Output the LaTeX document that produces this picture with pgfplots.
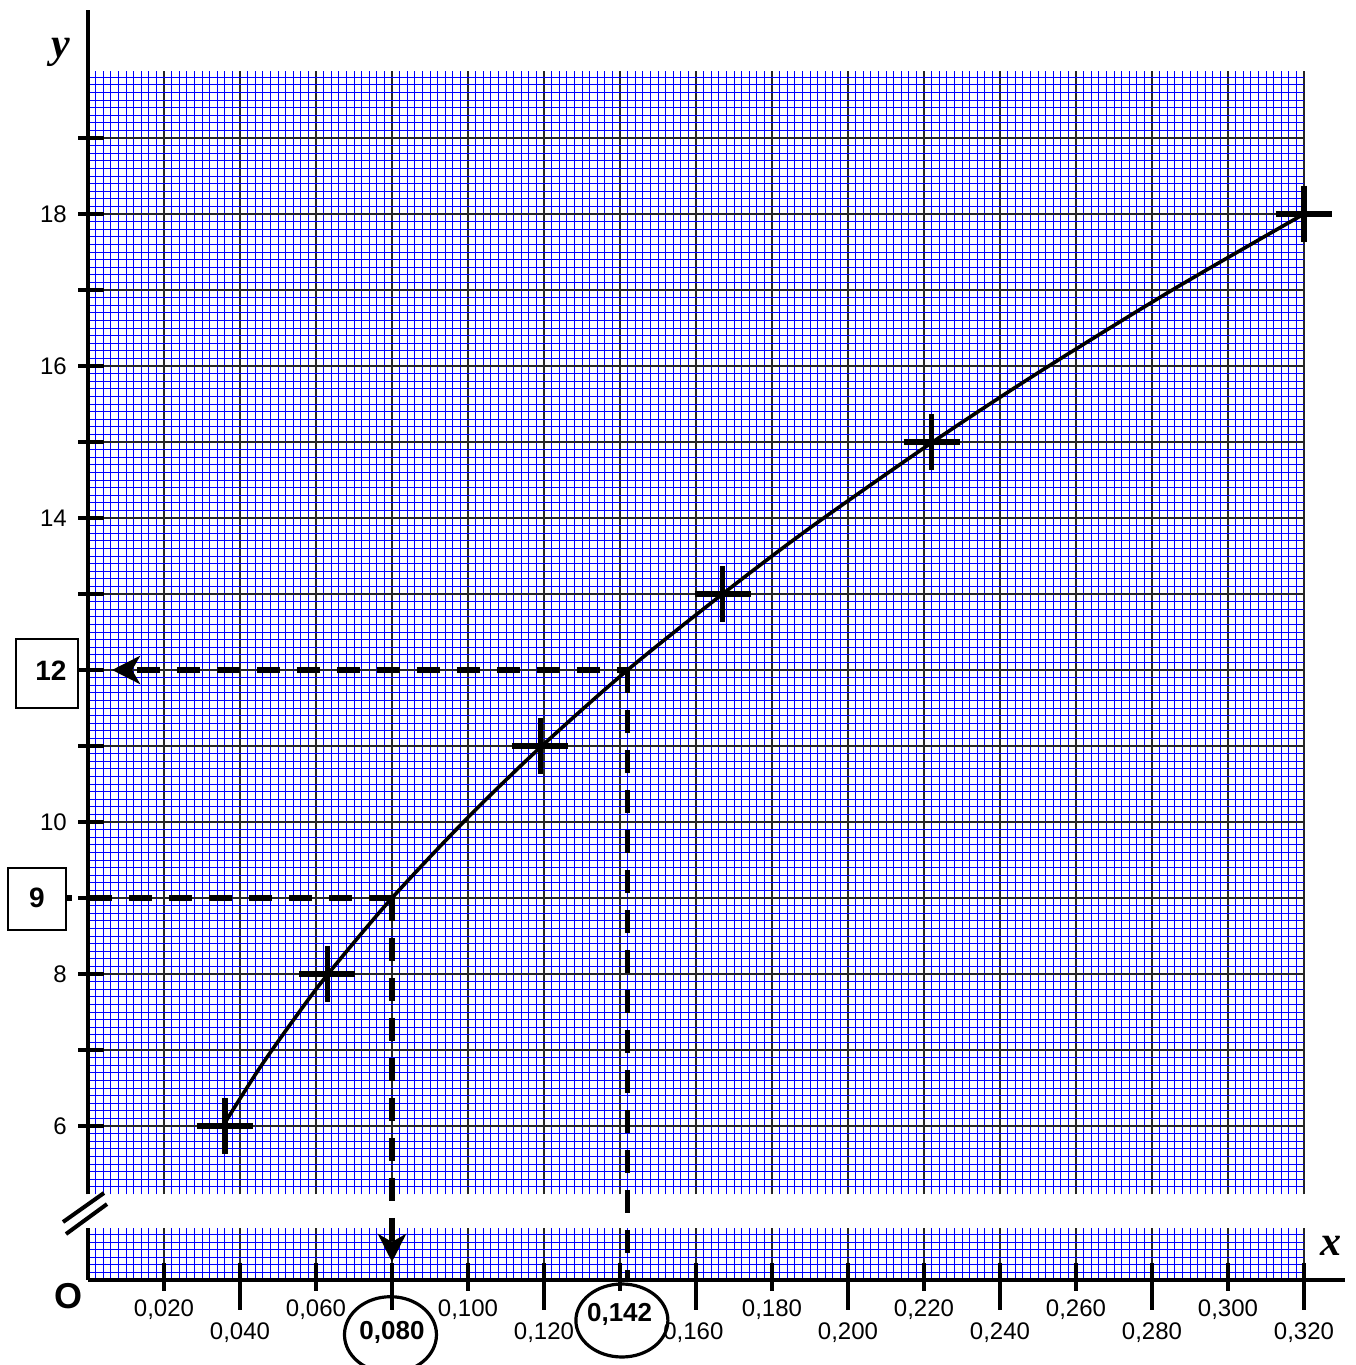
\documentclass[border=0pt]{standalone}
\usepackage{pgfplots}
\pgfplotsset{compat=1.18}
\usetikzlibrary{arrows.meta}
\usepackage{fontspec}
\setmainfont{Liberation Sans}
\newfontfamily\seriffont{Liberation Serif}
\newcommand\ticklab{\fontsize{12}{14}\selectfont}
\newcommand\boldlab{\fontsize{13}{15}\selectfont\bfseries}
\tikzset{dashedline/.style={line width=2.8pt, dash pattern=on 11.5pt off 8.5pt}}
\begin{document}
\begin{tikzpicture}
\path[use as bounding box] (-44pt,-42.5pt) rectangle (633.5pt,640pt);
\pgfplotsset{
  paper/.style={
    x=1900pt, y=38pt,
    xmin=0, xmax=0.32,
    axis line style={draw=none},
    xtick={0,0.02,0.04,0.06,0.08,0.1,0.12,0.14,0.16,0.18,0.2,0.22,0.24,0.26,0.28,0.3,0.32},
    minor x tick num=9,
    xticklabels={}, yticklabels={},
    tick style={draw=none},
    major tick length=0pt, minor tick length=0pt,
    grid=both,
    major grid style={black!85, line width=0.65pt},
    minor grid style={blue, line width=0.38pt},
    clip=false,
  },
}
% ---------------- upper part ----------------
\begin{axis}[paper, at={(0pt,42.8pt)}, anchor=south west,
  ymin=5.1, ymax=19.88, ytick={6,...,19}, minor ytick={5.2,5.3,...,19.85}]
\addplot[smooth, line width=1.8pt] coordinates {
 (0.036,6.04) (0.045,6.75) (0.054,7.39) (0.063,7.99) (0.080,9.00) (0.100,10.06)
 (0.119,10.98) (0.142,12.00) (0.167,13.00) (0.190,13.87) (0.222,14.99)
 (0.250,15.91) (0.285,16.99) (0.320,18.00)};
\addplot[only marks, line width=2.7pt, mark=+, mark size=14pt, mark options={line width=2.7pt}] coordinates {
 (0.036,6) (0.063,8) (0.119,11) (0.167,13) (0.222,15) (0.32,18)};
% axis line and ticks
\draw[line width=2.2pt] (axis cs:0,5.1) -- (axis cs:0,20.68);
\pgfplotsinvokeforeach{6,...,19}{\draw[line width=2.2pt] (axis cs:-0.00263,#1) -- (axis cs:0.00421,#1);}
\pgfplotsinvokeforeach{6,8,10,14,16,18}{\node[anchor=east, font=\ticklab, inner sep=0pt] at (axis cs:-0.0055,#1) {#1};}
\node[font=\seriffont\fontsize{21}{24}\selectfont\bfseries\itshape] at (axis cs:-0.0071,20.13) {y};
% boxes
\draw[line width=1pt] (axis cs:-0.01895,12.408) rectangle (axis cs:-0.00263,11.5);
\node[font=\fontsize{14}{16}\selectfont\bfseries] at (axis cs:-0.00974,11.99) {12};
\draw[line width=1pt] (axis cs:-0.02105,9.395) rectangle (axis cs:-0.00579,8.579);
\node[font=\fontsize{14}{16}\selectfont\bfseries] at (axis cs:-0.01342,9.0) {9};
% dashed readings
\draw[dashedline] (axis cs:0.08,9) -- (axis cs:-0.00579,9);
\draw[dashedline, dash phase=6pt, -{Stealth[length=14pt,width=14pt,inset=4pt]}] (axis cs:0.142,12) -- (axis cs:0.00632,12);
\coordinate (A) at (axis cs:0.08,9);
\coordinate (B) at (axis cs:0.142,12);
\end{axis}
% ---------------- lower strip ----------------
\begin{axis}[paper, at={(0pt,0pt)}, anchor=south west,
  ymin=0, ymax=0.68, ytick={0.1,0.2,...,0.65},
  major y grid style={blue, line width=0.38pt}]
\draw[line width=2.2pt] (axis cs:0,0.68) -- (axis cs:0,0);
\draw[line width=2pt] (axis cs:0,0) -- (axis cs:0.3308,0);
\pgfplotsinvokeforeach{0.02,0.06,0.10,0.14,0.18,0.22,0.26,0.30}{\draw[line width=2.2pt] (axis cs:#1,0.224) -- (axis cs:#1,-0.145);}
\pgfplotsinvokeforeach{0.04,0.08,0.12,0.16,0.20,0.24,0.28,0.32}{\draw[line width=2.2pt] (axis cs:#1,0.224) -- (axis cs:#1,-0.395);}
\node[font=\ticklab] at (axis cs:0.02,-0.395) {0,020};
\node[font=\ticklab] at (axis cs:0.06,-0.395) {0,060};
\node[font=\ticklab] at (axis cs:0.10,-0.395) {0,100};
\node[font=\ticklab] at (axis cs:0.18,-0.395) {0,180};
\node[font=\ticklab] at (axis cs:0.22,-0.395) {0,220};
\node[font=\ticklab] at (axis cs:0.26,-0.395) {0,260};
\node[font=\ticklab] at (axis cs:0.30,-0.395) {0,300};
\node[font=\ticklab] at (axis cs:0.04,-0.691) {0,040};
\node[font=\ticklab] at (axis cs:0.12,-0.691) {0,120};
\node[font=\ticklab] at (axis cs:0.1593,-0.691) {0,160};
\node[font=\ticklab] at (axis cs:0.20,-0.691) {0,200};
\node[font=\ticklab] at (axis cs:0.24,-0.691) {0,240};
\node[font=\ticklab] at (axis cs:0.28,-0.691) {0,280};
\node[font=\ticklab] at (axis cs:0.32,-0.691) {0,320};
\node[font=\boldlab] at (axis cs:0.08,-0.691) {0,080};
\draw[line width=1.6pt] (axis cs:0.0796,-0.72) ellipse [x radius=23pt, y radius=19pt];
\node[font=\boldlab] at (axis cs:0.1399,-0.454) {0,142};
\draw[line width=1.6pt] (axis cs:0.1405,-0.533) ellipse [x radius=23pt, y radius=18.25pt];
\node[font=\fontsize{18}{20}\selectfont\bfseries] at (axis cs:-0.00526,-0.21) {O};
\node[font=\seriffont\fontsize{21}{24}\selectfont\bfseries\itshape] at (axis cs:0.3271,0.447) {x};
% break marks
\draw[line width=2pt] (axis cs:-0.00658,0.763) -- (axis cs:0.00421,1.145);
\draw[line width=2pt] (axis cs:-0.00579,0.605) -- (axis cs:0.00500,0.999);
\coordinate (C) at (axis cs:0.08,0.237);
\coordinate (D) at (axis cs:0.142,0);
\end{axis}
\draw[dashedline, -{Stealth[length=14pt,width=14pt,inset=4pt]}] (A) -- (C);
\draw[dashedline] (B) -- (D);
\end{tikzpicture}
\end{document}
